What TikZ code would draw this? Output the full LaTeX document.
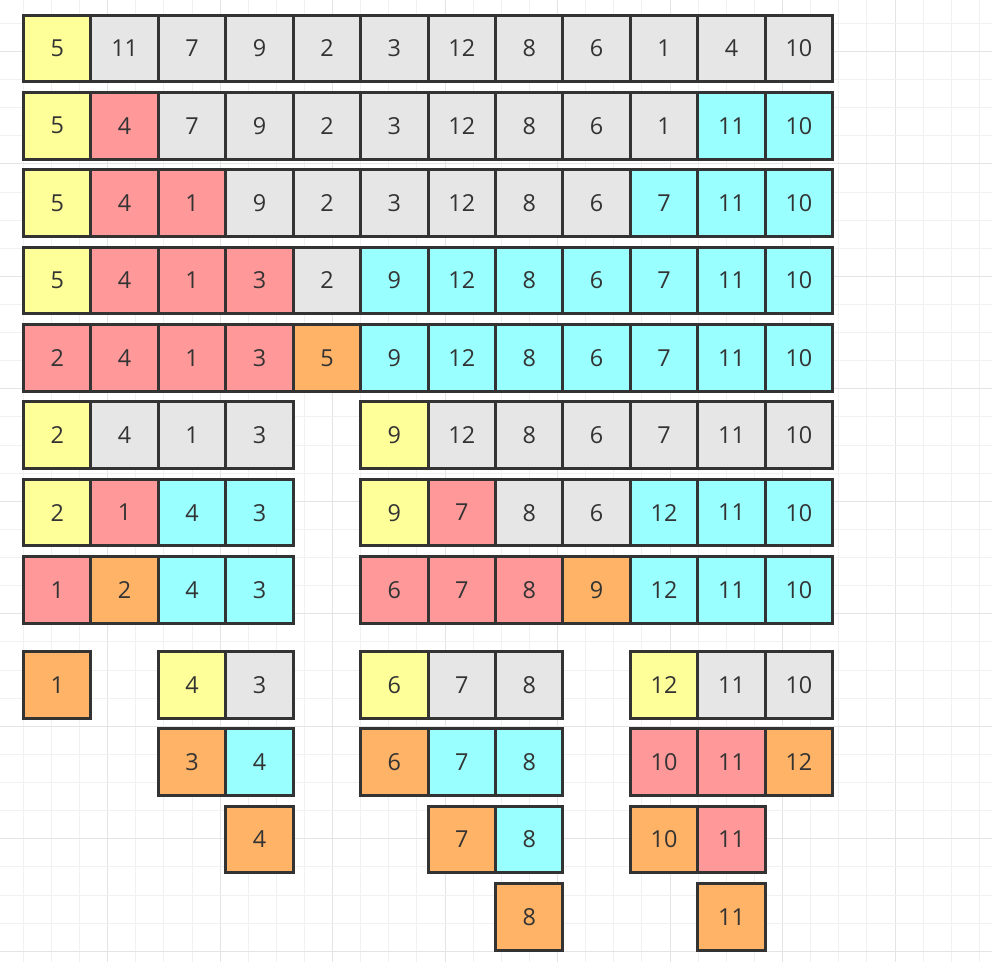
\documentclass[tikz,border=0pt]{standalone}
\usepackage{fontspec}
\setmainfont{Open Sans}
\definecolor{cyel}{HTML}{FFFF99}
\definecolor{cgry}{HTML}{E6E6E6}
\definecolor{cred}{HTML}{FF9999}
\definecolor{ccya}{HTML}{99FFFF}
\definecolor{corg}{HTML}{FFB366}
\definecolor{cborder}{HTML}{333333}
\definecolor{ctext}{HTML}{333333}
\definecolor{gminor}{HTML}{F1F1F1}
\definecolor{gmajor}{HTML}{E4E4E4}
\begin{document}
\begin{tikzpicture}[x=1pt,y=-1pt,
  cellbox/.style={draw=cborder, line width=3pt, minimum width=67.43pt, minimum height=66.7pt,
    inner sep=0pt, font=\fontsize{23.4}{27}\selectfont, text=ctext},
  gridminor/.style={gminor, line width=1pt},
  gridmajor/.style={gmajor, line width=1pt}]
\fill[white] (0,0) rectangle (992,962);
\useasboundingbox (0,0) rectangle (992,962);
% background grid
\foreach \i in {0,...,34} {
  \pgfmathsetmacro\gx{23.3+28.12*\i}
  \pgfmathtruncatemacro\gm{mod(\i,4)}
  \ifnum\gm=3 \draw[gridmajor] (\gx,0) -- (\gx,962); \else \draw[gridminor] (\gx,0) -- (\gx,962); \fi
}
\foreach \i in {0,...,33} {
  \pgfmathsetmacro\gy{23.3+28.12*\i}
  \pgfmathtruncatemacro\gm{mod(\i,4)}
  \ifnum\gm=1 \draw[gridmajor] (0,\gy) -- (992,\gy); \else \draw[gridminor] (0,\gy) -- (992,\gy); \fi
}
% cells: column/row/fill/text
\foreach \c/\r/\f/\t in {
  1/1/cyel/5, 2/1/cgry/11, 3/1/cgry/7, 4/1/cgry/9, 5/1/cgry/2, 6/1/cgry/3, 7/1/cgry/12, 8/1/cgry/8, 9/1/cgry/6, 10/1/cgry/1, 11/1/cgry/4, 12/1/cgry/10,
  1/2/cyel/5, 2/2/cred/4, 3/2/cgry/7, 4/2/cgry/9, 5/2/cgry/2, 6/2/cgry/3, 7/2/cgry/12, 8/2/cgry/8, 9/2/cgry/6, 10/2/cgry/1, 11/2/ccya/11, 12/2/ccya/10,
  1/3/cyel/5, 2/3/cred/4, 3/3/cred/1, 4/3/cgry/9, 5/3/cgry/2, 6/3/cgry/3, 7/3/cgry/12, 8/3/cgry/8, 9/3/cgry/6, 10/3/ccya/7, 11/3/ccya/11, 12/3/ccya/10,
  1/4/cyel/5, 2/4/cred/4, 3/4/cred/1, 4/4/cred/3, 5/4/cgry/2, 6/4/ccya/9, 7/4/ccya/12, 8/4/ccya/8, 9/4/ccya/6, 10/4/ccya/7, 11/4/ccya/11, 12/4/ccya/10,
  1/5/cred/2, 2/5/cred/4, 3/5/cred/1, 4/5/cred/3, 5/5/corg/5, 6/5/ccya/9, 7/5/ccya/12, 8/5/ccya/8, 9/5/ccya/6, 10/5/ccya/7, 11/5/ccya/11, 12/5/ccya/10,
  1/6/cyel/2, 2/6/cgry/4, 3/6/cgry/1, 4/6/cgry/3, 6/6/cyel/9, 7/6/cgry/12, 8/6/cgry/8, 9/6/cgry/6, 10/6/cgry/7, 11/6/cgry/11, 12/6/cgry/10,
  1/7/cyel/2, 2/7/cred/1, 3/7/ccya/4, 4/7/ccya/3, 6/7/cyel/9, 7/7/cred/7, 8/7/cgry/8, 9/7/cgry/6, 10/7/ccya/12, 11/7/ccya/11, 12/7/ccya/10,
  1/8/cred/1, 2/8/corg/2, 3/8/ccya/4, 4/8/ccya/3, 6/8/cred/6, 7/8/cred/7, 8/8/cred/8, 9/8/corg/9, 10/8/ccya/12, 11/8/ccya/11, 12/8/ccya/10,
  1/9/corg/1, 3/9/cyel/4, 4/9/cgry/3, 6/9/cyel/6, 7/9/cgry/7, 8/9/cgry/8, 10/9/cyel/12, 11/9/cgry/11, 12/9/cgry/10,
  3/10/corg/3, 4/10/ccya/4, 6/10/corg/6, 7/10/ccya/7, 8/10/ccya/8, 10/10/cred/10, 11/10/cred/11, 12/10/corg/12,
  4/11/corg/4, 7/11/corg/7, 8/11/ccya/8, 10/11/corg/10, 11/11/cred/11,
  8/12/corg/8, 11/12/corg/11} {
  \pgfmathsetmacro\cx{23.5+67.43*(\c-0.5)}
  \pgfmathsetmacro\cy{\r<9 ? 15+77.38*(\r-1)+33.35 : 651.7+77.2*(\r-9)+33.35}
  \node[cellbox, fill=\f] (c-\r-\c) at (\cx,\cy) {\raisebox{-1.5pt}{\t}};
}
\end{tikzpicture}
\end{document}
